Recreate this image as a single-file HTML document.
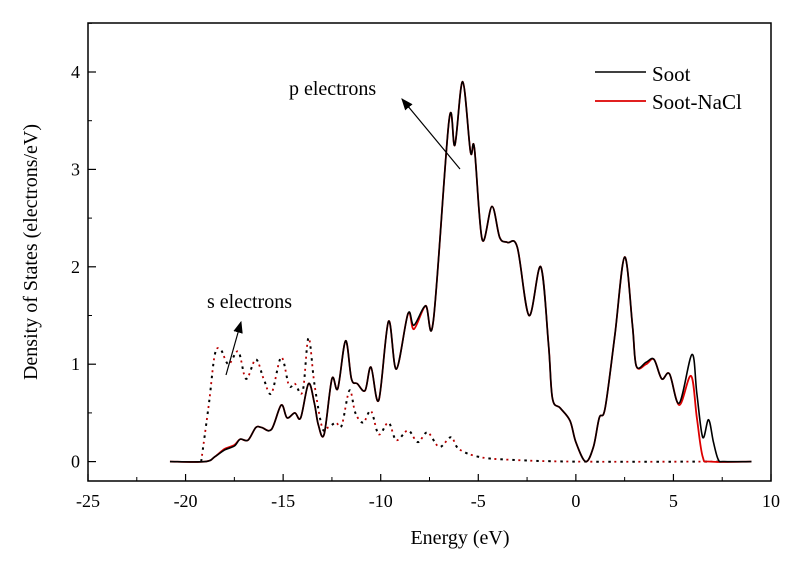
<!DOCTYPE html>
<html><head><meta charset="utf-8"><style>
body{margin:0;background:#fff}
svg text{font-family:"Liberation Serif",serif;fill:#000}
</style></head><body>
<svg id="c" width="800" height="565" viewBox="0 0 800 565">
<defs><marker id="ah" markerWidth="10" markerHeight="8" refX="9" refY="4" orient="auto"><path d="M0,0 L10,4 L0,8 z" fill="#000"/></marker></defs>
<g id="plot"></g>
</svg>
<script>
const sootE=[-20.8,-19,-18.5,-18,-17.5,-17.2,-16.8,-16.4,-16.1,-15.6,-15.1,-14.8,-14.4,-14.1,-13.7,-13.4,-13.2,-12.9,-12.5,-12.2,-11.8,-11.5,-11.2,-10.8,-10.5,-10.1,-9.6,-9.2,-8.6,-8.3,-7.7,-7.3,-6.5,-6.2,-5.8,-5.4,-5.2,-4.8,-4.3,-3.9,-3.5,-3.0,-2.4,-1.8,-1.4,-1.2,-0.8,-0.3,0,0.5,0.9,1.2,1.5,2.0,2.5,2.9,3.1,3.6,4.0,4.4,4.8,5.3,5.95,6.2,6.5,6.8,7.05,7.3,7.6,9];
const sootV=[0,0,0.05,0.12,0.16,0.23,0.22,0.35,0.35,0.33,0.58,0.45,0.5,0.45,0.8,0.6,0.38,0.28,0.85,0.75,1.24,0.85,0.8,0.73,0.97,0.63,1.44,0.95,1.52,1.4,1.6,1.45,3.5,3.25,3.9,3.18,3.22,2.28,2.62,2.3,2.25,2.2,1.5,2.0,1.2,0.65,0.55,0.42,0.2,0,0.15,0.45,0.55,1.3,2.1,1.4,0.98,1.02,1.05,0.85,0.9,0.6,1.1,0.7,0.25,0.43,0.2,0.02,0,0];
const naclE=[-20.8,-19,-18.5,-18,-17.5,-17.2,-16.8,-16.4,-16.1,-15.6,-15.1,-14.8,-14.4,-14.1,-13.7,-13.4,-13.2,-12.9,-12.5,-12.2,-11.8,-11.5,-11.2,-10.8,-10.5,-10.1,-9.6,-9.2,-8.6,-8.3,-7.7,-7.3,-6.5,-6.2,-5.8,-5.4,-5.2,-4.8,-4.3,-3.9,-3.5,-3.0,-2.4,-1.8,-1.4,-1.2,-0.8,-0.3,0,0.5,0.9,1.2,1.5,2.0,2.5,2.9,3.1,3.6,4.0,4.4,4.8,5.3,5.9,6.2,6.5,6.9,9];
const naclV=[0,0,0.05,0.13,0.17,0.23,0.22,0.35,0.35,0.33,0.58,0.45,0.5,0.45,0.8,0.6,0.38,0.28,0.85,0.75,1.24,0.85,0.8,0.73,0.97,0.63,1.44,0.95,1.52,1.36,1.6,1.45,3.5,3.25,3.9,3.18,3.22,2.28,2.62,2.3,2.25,2.2,1.5,2.0,1.2,0.65,0.55,0.42,0.2,0,0.15,0.45,0.55,1.3,2.1,1.4,0.98,1.0,1.05,0.85,0.9,0.58,0.88,0.45,0.05,0,0];
const sE=[-19.2,-18.8,-18.5,-18.2,-17.8,-17.3,-16.9,-16.4,-16.0,-15.6,-15.1,-14.7,-14.4,-14.0,-13.7,-13.4,-13.0,-12.7,-12.3,-12.0,-11.6,-11.3,-10.9,-10.5,-10.1,-9.6,-9.2,-8.6,-8.1,-7.6,-7.0,-6.4,-6.0,-5.0,-3.5,0,7.5];
const sV=[0,0.6,1.1,1.15,1.0,1.13,0.85,1.05,0.85,0.7,1.07,0.78,0.8,0.72,1.27,0.8,0.35,0.35,0.4,0.37,0.73,0.5,0.4,0.52,0.28,0.4,0.22,0.32,0.2,0.3,0.15,0.25,0.13,0.05,0.02,0,0];
const xTicks=[-25,-20,-15,-10,-5,0,5,10];
const yTicks=[0,1,2,3,4];
const NS='http://www.w3.org/2000/svg';
const L=88,R=771,T=23,B=481;
const sx=e=>L+(e+25)/35*(R-L);
const sy=v=>461.6-v*97.4;
const g=document.getElementById('plot');
function mk(t,a,p){const el=document.createElementNS(NS,t);for(const k in a)el.setAttribute(k,a[k]);(p||g).appendChild(el);return el;}
function path(E,V){const P=E.map((e,i)=>[sx(e),sy(V[i])]);let d='M'+P[0][0]+','+P[0][1];
for(let i=0;i<P.length-1;i++){const p0=P[Math.max(0,i-1)],p1=P[i],p2=P[i+1],p3=P[Math.min(P.length-1,i+2)];
const k=1/6;d+=' C'+(p1[0]+(p2[0]-p0[0])*k)+','+(p1[1]+(p2[1]-p0[1])*k)+' '+(p2[0]-(p3[0]-p1[0])*k)+','+(p2[1]-(p3[1]-p1[1])*k)+' '+p2[0]+','+p2[1];}return d;}
const fr=mk('rect',{x:L,y:T,width:R-L,height:B-T,fill:'none',stroke:'#000','stroke-width':1.5});

xTicks.forEach((t,i)=>{const x=sx(t);mk('line',{x1:x,x2:x,y1:B,y2:B-7,stroke:'#000','stroke-width':1.2});
if(i<xTicks.length-1){const xm=sx(t+2.5);mk('line',{x1:xm,x2:xm,y1:B,y2:B-4,stroke:'#000','stroke-width':1});}
const tx=mk('text',{x:x,y:507,'font-size':18,'text-anchor':'middle'});tx.textContent=t;
});
yTicks.forEach(t=>{const y=sy(t);mk('line',{x1:L,x2:L+8,y1:y,y2:y,stroke:'#000','stroke-width':1.2});
const ym=sy(t+0.5);mk('line',{x1:L,x2:L+4,y1:ym,y2:ym,stroke:'#000','stroke-width':1});
const tx=mk('text',{x:80,y:y+6,'font-size':18,'text-anchor':'end'});tx.textContent=t;
});
const s1=mk('path',{d:path(sE,sV),fill:'none',stroke:'#b00','stroke-width':1.8,'stroke-dasharray':'2 10','stroke-dashoffset':6});

const s2=mk('path',{d:path(sE,sV),fill:'none',stroke:'#000','stroke-width':2,'stroke-dasharray':'2.5 9.5'});

const r=mk('path',{d:path(naclE,naclV),fill:'none',stroke:'#d00','stroke-width':1.8});

const b=mk('path',{d:path(sootE,sootV),fill:'none',stroke:'#000','stroke-width':1.6});

const l1=mk('line',{x1:595,x2:646,y1:72,y2:72,stroke:'#000','stroke-width':1.6});
const l2=mk('line',{x1:595,x2:646,y1:101,y2:101,stroke:'#d00','stroke-width':1.8});
let t=mk('text',{x:652,y:81,'font-size':21});t.textContent='Soot';
t=mk('text',{x:652,y:109,'font-size':21});t.textContent='Soot-NaCl';
t=mk('text',{x:289,y:95,'font-size':20});t.textContent='p electrons';
let a=mk('line',{x1:460,y1:169,x2:402,y2:99,stroke:'#000','stroke-width':1.2,'marker-end':'url(#ah)'});
t=mk('text',{x:207,y:308,'font-size':20});t.textContent='s electrons';
a=mk('line',{x1:226,y1:375,x2:241,y2:322,stroke:'#000','stroke-width':1.2,'marker-end':'url(#ah)'});
t=mk('text',{x:460,y:544,'font-size':20,'text-anchor':'middle'});t.textContent='Energy (eV)';
t=mk('text',{x:0,y:0,'font-size':20,'text-anchor':'middle',transform:'translate(37,252) rotate(-90)'});t.textContent='Density of States (electrons/eV)';
</script>
</body></html>
